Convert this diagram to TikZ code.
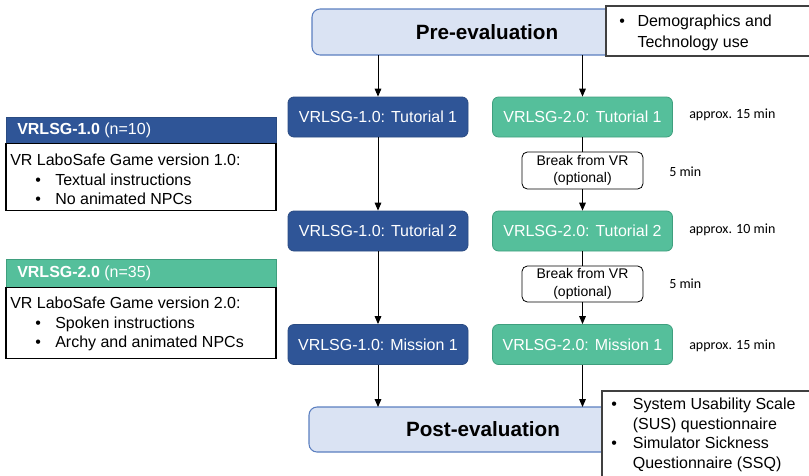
\documentclass[tikz,border=0pt]{standalone}
\usepackage{fontspec}
\setmainfont{Liberation Sans}
\newfontfamily\calib{Carlito}
\usetikzlibrary{arrows.meta}
\definecolor{vblue}{HTML}{2F5597}
\definecolor{vbluedk}{HTML}{2A4B82}
\definecolor{vgreen}{HTML}{55BF9B}
\definecolor{vgreendk}{HTML}{3F9F7E}
\definecolor{evalfill}{HTML}{DAE3F3}
\definecolor{evaldraw}{HTML}{5B7FC0}
\tikzset{
  stage/.style={rounded corners=4.5pt, minimum width=135pt, minimum height=30pt,
    text=white, font=\fontsize{12}{14}\selectfont, inner sep=0pt},
  bluestage/.style={stage, fill=vblue, draw=vbluedk, line width=0.6pt},
  greenstage/.style={stage, fill=vgreen, draw=vgreendk, line width=0.6pt},
  evalbox/.style={rounded corners=6pt, fill=evalfill, draw=evaldraw, line width=0.8pt,
    inner sep=0pt, font=\bfseries\fontsize{15.5}{18}\selectfont},
  breakbox/.style={rounded corners=4pt, draw=black, fill=white, line width=0.6pt,
    minimum width=90.75pt, align=center, inner sep=0pt,
    font=\fontsize{10.5}{13}\selectfont},
  timelabel/.style={anchor=west, inner sep=0pt, font=\calib\fontsize{10.5}{12}\selectfont},
  notebox/.style={draw=black!75, fill=white, line width=0.8pt},
  notetext/.style={anchor=north west, inner sep=0pt, align=left,
    font=\fontsize{12}{14.6}\selectfont},
  flow/.style={-{Triangle[length=6pt,width=5pt]}, line width=0.75pt},
  link/.style={line width=0.75pt}
}
\begin{document}
\begin{tikzpicture}[x=0.75pt,y=-0.75pt]
\useasboundingbox (0,0) rectangle (809,475);

% evaluation bars
\node[evalbox, minimum width=262.5pt, minimum height=34.5pt] (pre) at (487,32) {Pre-evaluation};
\node[evalbox, minimum width=261pt, minimum height=33.75pt] (post) at (483,429.5) {Post-evaluation};

% VRLSG-1.0 column
\node[bluestage] (b1) at (378,117) {VRLSG-1.0: Tutorial 1};
\node[bluestage] (b2) at (378,231) {VRLSG-1.0: Tutorial 2};
\node[bluestage] (b3) at (378,344.5) {VRLSG-1.0: Mission 1};

% VRLSG-2.0 column
\node[greenstage] (g1) at (582.5,117) {VRLSG-2.0: Tutorial 1};
\node[greenstage] (g2) at (582.5,231) {VRLSG-2.0: Tutorial 2};
\node[greenstage] (g3) at (582.5,344.5) {VRLSG-2.0: Mission 1};

\node[breakbox, minimum height=27.75pt] (k1) at (582.5,170.5) {Break from VR\\(optional)};
\node[breakbox, minimum height=27pt] (k2) at (582.5,284) {Break from VR\\(optional)};

% durations
\node[timelabel] (t1) at (689,115) {approx. 15 min};
\node[timelabel] (t2) at (669,172) {5 min};
\node[timelabel] (t3) at (689,230) {approx. 10 min};
\node[timelabel] (t4) at (669,284) {5 min};
\node[timelabel] (t5) at (689,346) {approx. 15 min};

% connectors
\coordinate (preL) at (378,55);
\coordinate (preR) at (582.5,55);
\coordinate (postL) at (378,407);
\coordinate (postR) at (582.5,407);
\draw[flow] (preL) -- (b1.north);
\draw[flow] (preR) -- (g1.north);
\draw[flow] (b1) -- (b2);
\draw[flow] (b2) -- (b3);
\draw[flow] (b3) -- (postL);
\draw[link] (g1) -- (k1);
\draw[flow] (k1) -- (g2);
\draw[link] (g2) -- (k2);
\draw[flow] (k2) -- (g3);
\draw[flow] (g3) -- (postR);

% measurement notes
\draw[notebox] (606,6) rectangle (812,56);
\node[notetext, font=\fontsize{12}{15.5}\selectfont] (prenote) at (619,15)
  {\textbullet\hspace{9.5pt}Demographics and\\\phantom{\textbullet}\hspace{9.5pt}Technology use};
\draw[notebox] (602,391) rectangle (812,480);
\node[notetext] (postnote) at (611,398) {%
\textbullet\hspace{12pt}System Usability Scale\\
\phantom{\textbullet}\hspace{12pt}(SUS) questionnaire\\
\textbullet\hspace{12pt}Simulator Sickness\\
\phantom{\textbullet}\hspace{12pt}Questionnaire (SSQ)};

% version legends
\node[draw=vbluedk, fill=vblue, line width=0.6pt, minimum width=202.5pt, minimum height=19.5pt,
  inner sep=0pt] (h1) at (141,130) {};
\node[anchor=west, text=white, inner sep=0pt, font=\fontsize{12}{14}\selectfont] (h1t) at (17,130)
  {\textbf{VRLSG-1.0} (n=10)};
\node[draw=black, line width=0.8pt, fill=white, minimum width=202.5pt, minimum height=50.25pt,
  inner sep=0pt, anchor=north] (v1) at (141,143) {};
\node[notetext] (v1t) at (10,154) {VR LaboSafe Game version 1.0:\\
\hspace{18.75pt}\textbullet\hspace{10.8pt}Textual instructions\\
\hspace{18.75pt}\textbullet\hspace{10.8pt}No animated NPCs};

\node[draw=vgreendk, fill=vgreen, line width=0.6pt, minimum width=202.5pt, minimum height=21pt,
  inner sep=0pt] (h2) at (141,273) {};
\node[anchor=west, text=white, inner sep=0pt, font=\fontsize{12}{14}\selectfont] (h2t) at (17,273)
  {\textbf{VRLSG-2.0} (n=35)};
\node[draw=black, line width=0.8pt, fill=white, minimum width=202.5pt, minimum height=53.25pt,
  inner sep=0pt, anchor=north] (v2) at (141,287) {};
\node[notetext] (v2t) at (10,297) {VR LaboSafe Game version 2.0:\\
\hspace{18.75pt}\textbullet\hspace{10.8pt}Spoken instructions\\
\hspace{18.75pt}\textbullet\hspace{10.8pt}Archy and animated NPCs};
\end{tikzpicture}
\end{document}
